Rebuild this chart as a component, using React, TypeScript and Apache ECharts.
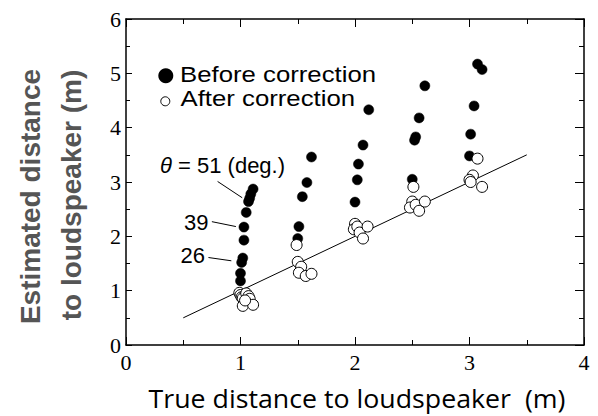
import React, { useEffect, useRef } from "react";
import * as echarts from "echarts";

// Estimated distance before correction [true distance (m), estimated (m)]
const beforeCorrection: [number, number][] = [
  [1.11, 2.87], [1.09, 2.78], [1.08, 2.70], [1.07, 2.64], [1.05, 2.44], [1.03, 2.17],
  [1.03, 1.93], [1.02, 1.60], [1.01, 1.52], [1.00, 1.32], [1.00, 1.18],
  [1.62, 3.46], [1.58, 2.99], [1.54, 2.73], [1.51, 2.18], [1.50, 1.96],
  [2.12, 4.33], [2.07, 3.68], [2.03, 3.33], [2.02, 3.04], [2.00, 2.63],
  [2.61, 4.77], [2.56, 4.18], [2.53, 3.83], [2.52, 3.77], [2.50, 3.05],
  [3.07, 5.17], [3.11, 5.07], [3.04, 4.40], [3.01, 3.88], [3.00, 3.48],
];

// Estimated distance after correction
const afterCorrection: [number, number][] = [
  [0.99, 0.96], [1.00, 0.92], [1.01, 0.88], [1.02, 0.86], [1.05, 0.95], [1.07, 0.90],
  [1.08, 0.85], [1.02, 0.72], [1.11, 0.74], [1.04, 0.82],
  [1.49, 1.84], [1.50, 1.53], [1.53, 1.44], [1.51, 1.33], [1.57, 1.27], [1.62, 1.31],
  [2.00, 2.23], [1.99, 2.13], [2.02, 2.18], [2.04, 2.07], [2.07, 1.96], [2.11, 2.18],
  [2.51, 2.91], [2.50, 2.64], [2.48, 2.53], [2.53, 2.58], [2.56, 2.47], [2.61, 2.64],
  [3.07, 3.43], [3.03, 3.12], [3.00, 3.04], [3.01, 3.00], [3.11, 2.91],
];

// Reference line y = x
const identityLine: [number, number][] = [[0.5, 0.5], [3.5, 3.5]];

// Leader lines for angle annotations
const leader51: [number, number][] = [[0.80, 3.01], [1.015, 2.71]];
const leader39: [number, number][] = [[0.75, 2.27], [0.96, 2.18]];
const leader26: [number, number][] = [[0.72, 1.61], [0.92, 1.55]];

export default function App() {
  const ref = useRef<HTMLDivElement>(null);
  useEffect(() => {
    if (!ref.current) return;
    const chart = echarts.init(ref.current, undefined, { renderer: "svg" });
    chart.setOption({
      animation: false,
      backgroundColor: "#fff",
      grid: { left: 126, top: 19, right: 14, bottom: 71 },
      xAxis: [
        {
          type: "value", min: 0, max: 4, interval: 1, position: "bottom",
          axisLine: { show: true, onZero: false, lineStyle: { color: "#000", width: 1.5 } },
          axisTick: { show: true, inside: true, length: 8, lineStyle: { color: "#000" } },
          minorTick: { show: true, splitNumber: 2, length: 5, lineStyle: { color: "#000" } },
          splitLine: { show: false },
          axisLabel: { fontFamily: "Liberation Serif", fontSize: 22, color: "#000", margin: 6 },
        },
        {
          type: "value", min: 0, max: 4, interval: 1, position: "top",
          axisLine: { show: true, onZero: false, lineStyle: { color: "#000", width: 1.5 } },
          axisTick: { show: true, inside: true, length: 8, lineStyle: { color: "#000" } },
          minorTick: { show: true, splitNumber: 2, length: 5, lineStyle: { color: "#000" } },
          splitLine: { show: false },
          axisLabel: { show: false },
        },
      ],
      yAxis: [
        {
          type: "value", min: 0, max: 6, interval: 1, position: "left",
          axisLine: { show: true, onZero: false, lineStyle: { color: "#000", width: 1.5 } },
          axisTick: { show: true, inside: true, length: 6, lineStyle: { color: "#000" } },
          minorTick: { show: true, splitNumber: 2, length: 4, lineStyle: { color: "#000" } },
          splitLine: { show: false },
          axisLabel: { fontFamily: "Liberation Serif", fontSize: 22, color: "#000", margin: 5 },
        },
        {
          type: "value", min: 0, max: 6, interval: 1, position: "right",
          axisLine: { show: true, onZero: false, lineStyle: { color: "#000", width: 1.5 } },
          axisTick: { show: true, inside: true, length: 9, lineStyle: { color: "#000" } },
          minorTick: { show: true, splitNumber: 2, length: 5, lineStyle: { color: "#000" } },
          splitLine: { show: false },
          axisLabel: { show: false },
        },
      ],
      series: [
        { type: "line", data: identityLine, symbol: "none", silent: true, lineStyle: { color: "#000", width: 1 }, z: 2 },
        { type: "line", data: leader51, symbol: "none", silent: true, lineStyle: { color: "#000", width: 1 }, z: 3 },
        { type: "line", data: leader39, symbol: "none", silent: true, lineStyle: { color: "#000", width: 1 }, z: 3 },
        { type: "line", data: leader26, symbol: "none", silent: true, lineStyle: { color: "#000", width: 1 }, z: 3 },
        {
          name: "Before correction", type: "scatter", data: beforeCorrection, symbol: "circle", symbolSize: 10,
          itemStyle: { color: "#000", borderColor: "#000", borderWidth: 0.5, opacity: 1 }, z: 4,
        },
        {
          name: "After correction", type: "scatter", data: afterCorrection, symbol: "circle", symbolSize: 11,
          itemStyle: { color: "#fff", borderColor: "#000", borderWidth: 1, opacity: 1 }, z: 5,
        },
      ],
      graphic: [
        { type: "circle", shape: { cx: 165.8, cy: 75.8, r: 7.5 }, style: { fill: "#000" } },
        { type: "circle", shape: { cx: 165.3, cy: 101.3, r: 4.5 }, style: { fill: "#fff", stroke: "#000", lineWidth: 1 } },
        {
          type: "text", x: 180, y: 73.6, scaleX: 1.12,
          style: { text: "Before correction", fontFamily: "Liberation Sans", fontSize: 23, fill: "#000",
            align: "left", verticalAlign: "middle" },
        },
        {
          type: "text", x: 180.5, y: 98, scaleX: 1.12,
          style: { text: "After correction", fontFamily: "Liberation Sans", fontSize: 23, fill: "#000",
            align: "left", verticalAlign: "middle" },
        },
        {
          type: "text", x: 160, y: 165,
          style: {
            text: "{i|θ} = 51 (deg.)", fontFamily: "Liberation Sans", fontSize: 22, fill: "#000",
            rich: { i: { fontStyle: "italic", fontFamily: "Liberation Sans", fontSize: 22, fill: "#000" } },
            align: "left", verticalAlign: "middle",
          },
        },
        {
          type: "text", x: 184, y: 222.5,
          style: { text: "39", fontFamily: "Liberation Sans", fontSize: 22, fill: "#000", align: "left", verticalAlign: "middle" },
        },
        {
          type: "text", x: 180.5, y: 255.8,
          style: { text: "26", fontFamily: "Liberation Sans", fontSize: 22, fill: "#000", align: "left", verticalAlign: "middle" },
        },
        {
          type: "text", x: 30, y: 196.5, rotation: Math.PI / 2,
          style: { text: "Estimated distance", fontFamily: "Liberation Sans", fontWeight: "bold", fontSize: 28, fill: "#555",
            align: "center", verticalAlign: "middle" },
        },
        {
          type: "text", x: 71, y: 195, rotation: Math.PI / 2,
          style: { text: "to loudspeaker (m)", fontFamily: "Liberation Sans", fontWeight: "bold", fontSize: 28, fill: "#555",
            align: "center", verticalAlign: "middle" },
        },
        {
          type: "text", x: 357, y: 398.5, scaleX: 1.07,
          style: { text: "True distance to loudspeaker  (m)", fontFamily: "Open Sans", fontSize: 25, fill: "#000",
            align: "center", verticalAlign: "middle" },
        },
      ],
    });
    return () => chart.dispose();
  }, []);
  return (
    <div
      ref={ref}
      style={{ position: "fixed", left: 0, top: 0, width: 598, height: 416, background: "#fff" }}
    />
  );
}
